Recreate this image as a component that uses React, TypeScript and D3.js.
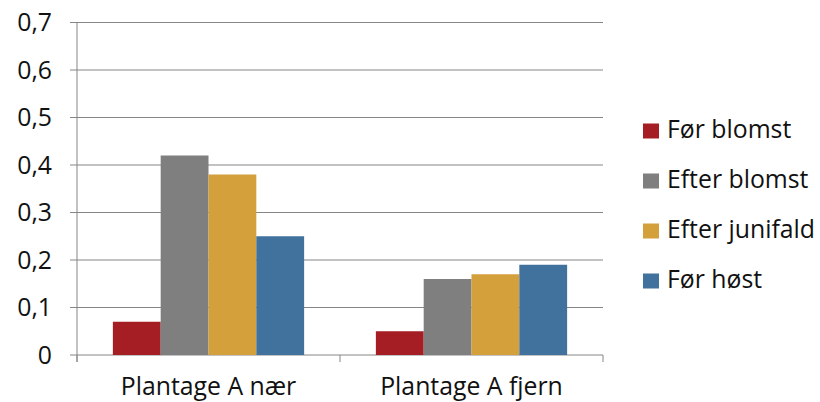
import React from 'react'
import * as d3 from 'd3'

const categories = ['Plantage A nær', 'Plantage A fjern']
const seriesNames = ['Før blomst', 'Efter blomst', 'Efter junifald', 'Før høst']
const seriesColors = ['#A51E23', '#7F7F7F', '#D4A03C', '#41729D']
const forBlomst = [0.07, 0.05]
const efterBlomst = [0.42, 0.16]
const efterJunifald = [0.38, 0.17]
const forHost = [0.25, 0.19]
const yTicks = [0, 0.1, 0.2, 0.3, 0.4, 0.5, 0.6, 0.7]

const series = [forBlomst, efterBlomst, efterJunifald, forHost]

export default function App() {
	const width = 820
	const height = 402
	const plot = { left: 77, right: 603, top: 22.5, bottom: 355 }
	const font = "'Open Sans', sans-serif"
	const fs = 24.8

	const x0 = d3.scaleBand().domain(categories).range([plot.left, plot.right]).paddingInner(0).paddingOuter(0)
	// gap width 150% -> 4 bars + 1.5 bar gap per category
	const innerPad = 0.75 / 5.5
	const x1 = d3
		.scaleBand()
		.domain(seriesNames)
		.range([x0.bandwidth() * innerPad, x0.bandwidth() * (1 - innerPad)])
	const y = d3.scaleLinear().domain([0, 0.7]).range([plot.bottom, plot.top])
	const fmt = (v: number) => (v === 0 ? '0' : d3.format('.1f')(v).replace('.', ','))

	const catTicks = [plot.left, ...categories.map((c) => (x0(c) as number) + x0.bandwidth())]

	return (
		<svg width={width} height={height} style={{ position: 'absolute', left: 0, top: 0 }}>
			<rect width={width} height={height} fill="#fff" />
			{/* gridlines + y labels */}
			{yTicks.map((t) => (
				<g key={t}>
					<line x1={plot.left - 7} x2={plot.right} y1={y(t)} y2={y(t)} stroke="#868686" strokeWidth={1} />
					<text x={52} y={y(t)} dy="0.35em" textAnchor="end" fontFamily={font} fontSize={fs} fill="#111">
						{fmt(t)}
					</text>
				</g>
			))}
			<line x1={plot.left} x2={plot.left} y1={plot.top} y2={plot.bottom + 7} stroke="#868686" />
			{catTicks.map((cx, i) => (
				<line key={i} x1={cx} x2={cx} y1={plot.bottom} y2={plot.bottom + 7} stroke="#868686" />
			))}
			{/* bars */}
			{categories.map((c, ci) => (
				<g key={c} transform={`translate(${x0(c)},0)`}>
					{series.map((s, si) => (
						<rect
							key={si}
							x={x1(seriesNames[si])}
							y={y(s[ci])}
							width={x1.bandwidth()}
							height={plot.bottom - y(s[ci])}
							fill={seriesColors[si]}
						/>
					))}
				</g>
			))}
			{/* category labels */}
			{categories.map((c) => (
				<text
					key={c}
					x={(x0(c) as number) + x0.bandwidth() / 2}
					y={386}
					dy="0.35em"
					textAnchor="middle"
					fontFamily={font}
					fontSize={fs}
					fill="#111"
				>
					{c}
				</text>
			))}
			{/* legend */}
			{seriesNames.map((n, i) => (
				<g key={n} transform={`translate(643,${131 + i * 50})`}>
					<rect x={0} y={-7.5} width={16} height={15} fill={seriesColors[i]} />
					<text x={24} y={-2} dy="0.35em" fontFamily={font} fontSize={fs} fill="#111">
						{n}
					</text>
				</g>
			))}
		</svg>
	)
}
